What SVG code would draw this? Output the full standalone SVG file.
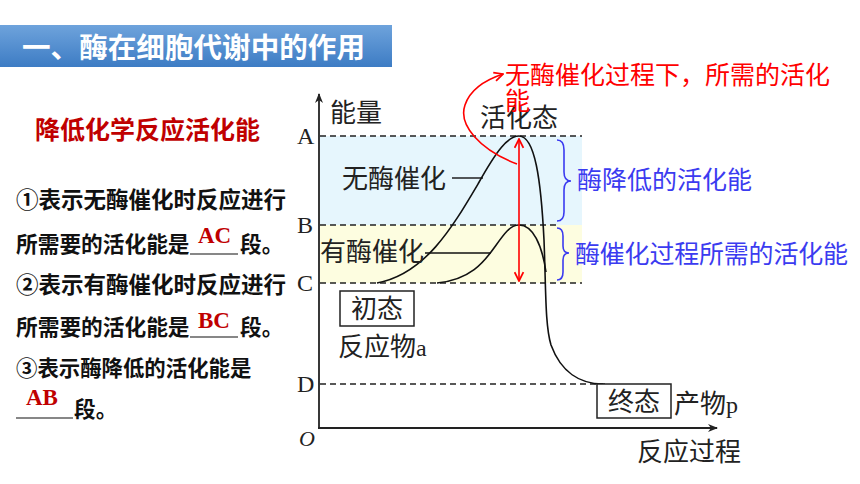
<svg xmlns="http://www.w3.org/2000/svg" width="860" height="484" viewBox="0 0 860 484">
<defs>
<linearGradient id="hdr" x1="0" y1="0" x2="0" y2="1">
<stop offset="0" stop-color="#6ea3dc"/>
<stop offset="1" stop-color="#3d7cc4"/>
</linearGradient>
<marker id="axArrow" viewBox="0 0 10 10" refX="9" refY="5" markerWidth="10" markerHeight="10" markerUnits="userSpaceOnUse" orient="auto">
<path d="M0,1 L10,5 L0,9 L3,5 Z" fill="#222"/>
</marker>
<marker id="redArrow" viewBox="0 0 10 10" refX="9" refY="5" markerWidth="11" markerHeight="11" markerUnits="userSpaceOnUse" orient="auto-start-reverse">
<path d="M1,1 L9,5 L1,9" fill="none" stroke="#f00" stroke-width="1.6"/>
</marker>
</defs>
<style>
.cjk{font-family:"Noto Sans CJK SC","Noto Sans",sans-serif;}
.b{font-weight:bold;}
.blk{fill:#111;font-size:22.5px;}
.blk2{fill:#111;font-size:21.7px;}
.ans{font-family:"Liberation Serif",serif;font-weight:bold;fill:#c00000;font-size:23px;}
.lab{font-family:"Liberation Serif",serif;font-size:24px;fill:#222;}
.chart{font-family:"Noto Sans CJK SC",sans-serif;font-size:26px;fill:#222;}
.dash{stroke:#222;stroke-width:1.5;stroke-dasharray:6,4;fill:none;}
.curve{fill:none;stroke:#111;stroke-width:1.6;}
.blue{font-family:"Noto Sans CJK SC",sans-serif;font-size:25px;fill:#3b3bf0;}
.brace{fill:none;stroke:#3b3bf0;stroke-width:1.6;}
.red{font-family:"Noto Sans CJK SC",sans-serif;font-size:25px;fill:#f00;}
</style>
<rect width="860" height="484" fill="#fff"/>

<g id="header">
<rect x="0" y="25" width="392" height="42" fill="url(#hdr)"/>
<text x="22" y="58" class="cjk b" font-size="28" fill="#fff" textLength="343" lengthAdjust="spacingAndGlyphs">一、酶在细胞代谢中的作用</text>
</g>

<g id="left-text">
<text x="35" y="139" class="cjk b" font-size="25" fill="#c00000">降低化学反应活化能</text>
<text x="16" y="208" class="cjk b blk">①表示无酶催化时反应进行</text>
<text x="16" y="252" class="cjk b blk2">所需要的活化能是</text>
<line x1="190" y1="254" x2="238" y2="254" stroke="#111" stroke-width="1.2"/>
<text x="198" y="243" class="ans">AC</text>
<text x="240" y="252" class="cjk b blk2">段。</text>
<text x="16" y="293" class="cjk b blk">②表示有酶催化时反应进行</text>
<text x="16" y="335" class="cjk b blk2">所需要的活化能是</text>
<line x1="190" y1="337" x2="238" y2="337" stroke="#111" stroke-width="1.2"/>
<text x="198" y="328" class="ans">BC</text>
<text x="240" y="335" class="cjk b blk2">段。</text>
<text x="16" y="376" class="cjk b" font-size="21.4" fill="#111">③表示酶降低的活化能是</text>
<line x1="16" y1="418" x2="73" y2="418" stroke="#111" stroke-width="1.2"/>
<text x="26" y="405" class="ans">AB</text>
<text x="74" y="417" class="cjk b blk2">段。</text>
</g>

<g id="bands">
<rect x="320" y="136" width="262" height="89" fill="#e6f6fd"/>
<rect x="320" y="225" width="262" height="58" fill="#fdfde0"/>
</g>

<g id="axes">
<line x1="319" y1="428" x2="319" y2="94" stroke="#222" stroke-width="1.8" marker-end="url(#axArrow)"/>
<line x1="318" y1="428" x2="717" y2="428" stroke="#222" stroke-width="1.8" marker-end="url(#axArrow)"/>
<text x="330" y="122" class="chart">能量</text>
<text x="299" y="446" font-family="Liberation Serif,serif" font-style="italic" font-size="22" fill="#222">O</text>
<text x="637" y="461" class="chart">反应过程</text>
</g>

<g id="levels">
<line x1="320" y1="136" x2="582" y2="136" class="dash"/>
<line x1="320" y1="225" x2="560" y2="225" class="dash"/>
<line x1="320" y1="283" x2="582" y2="283" class="dash"/>
<line x1="320" y1="384" x2="605" y2="384" class="dash"/>
<text x="297" y="144" class="lab">A</text>
<text x="297" y="233" class="lab">B</text>
<text x="297" y="291" class="lab">C</text>
<text x="297" y="392" class="lab">D</text>
</g>

<g id="connectors">
<path class="curve" d="M377,283 C425,274 452,228 478,184 C497,150 508,136 519,136 C535,136 541,180 544,240 C546,290 545,325 551,345 C561,372 580,384 603,384"/>
<path class="curve" d="M437,283 C470,280 484,262 494,248 C504,234 510,225 519,225 C533,225 542,245 546,272"/>
<line x1="452" y1="178" x2="483" y2="178" stroke="#111" stroke-width="1.4"/>
<line x1="425" y1="253" x2="491" y2="253" stroke="#111" stroke-width="1.4"/>
<line x1="519" y1="139" x2="519" y2="281" stroke="#f00" stroke-width="1.6" marker-start="url(#redArrow)" marker-end="url(#redArrow)"/>
<path d="M517,164 C480,150 458,125 465,105 C470,90 485,80 503,74" fill="none" stroke="#f00" stroke-width="1.6" marker-end="url(#redArrow)"/>
<path class="brace" d="M557,140 Q564,140 564,150 L564,172 Q564,181 571,181 Q564,181 564,190 L564,212 Q564,221 557,221"/>
<path class="brace" d="M557,228 Q563,228 563,236 L563,246 Q563,253 569,253 Q563,253 563,260 L563,272 Q563,280 557,280"/>
</g>

<g id="label-uncat">
<text x="342" y="188" class="chart">无酶催化</text>
</g>
<g id="label-cat">
<text x="320" y="261" class="chart">有酶催化</text>
</g>
<g id="label-active">
<text x="480" y="127" class="chart">活化态</text>
</g>
<g id="initial">
<rect x="340" y="291" width="74" height="35" fill="#fff" stroke="#222" stroke-width="1.5"/>
<text x="377" y="318" class="chart" text-anchor="middle" font-size="24">初态</text>
<text x="338" y="356" class="chart">反应物<tspan font-family="Liberation Serif,serif" font-size="24">a</tspan></text>
</g>
<g id="final">
<rect x="597" y="384" width="74" height="34" fill="#fff" stroke="#222" stroke-width="1.5"/>
<text x="634" y="411" class="chart" text-anchor="middle" font-size="24">终态</text>
<text x="674" y="413" class="chart">产物<tspan font-family="Liberation Serif,serif" font-size="24">p</tspan></text>
</g>
<g id="red-note">
<text x="505" y="84" class="red" textLength="325">无酶催化过程下，所需的活化</text>
<text x="505" y="110" class="red">能</text>
</g>
<g id="blue-notes">
<text x="577" y="189" class="blue" textLength="175">酶降低的活化能</text>
<text x="575" y="263" class="blue" textLength="273">酶催化过程所需的活化能</text>
</g>
</svg>
